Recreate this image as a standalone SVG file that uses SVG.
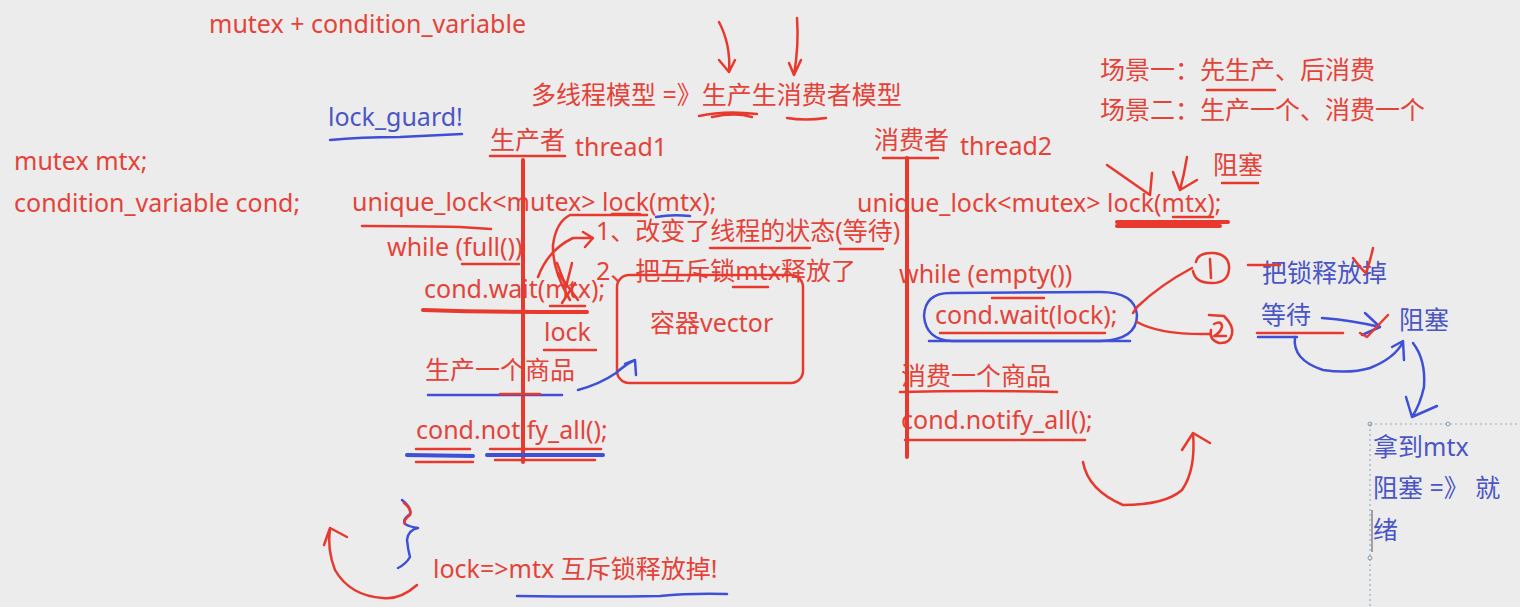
<svg xmlns="http://www.w3.org/2000/svg" width="1520" height="607" viewBox="0 0 1520 607">
<style>
text { font-family: "Noto Sans", "Noto Sans CJK SC", sans-serif; font-size: 25px; }
.r { fill: #e4433a; }
.b { fill: #4b56c4; }
.sr { fill: none; stroke: #e8392f; stroke-width: 2.5; stroke-linecap: round; stroke-linejoin: round; }
.sb { fill: none; stroke: #3f4fd6; stroke-width: 2.5; stroke-linecap: round; stroke-linejoin: round; }
.thick { stroke-width: 4; }
.dot { fill: none; stroke: #8fb0c8; stroke-width: 1.2; stroke-dasharray: 2 3; }
</style>
<rect width="1520" height="607" fill="#ececec"/>

<g id="header">
  <text class="r" x="209" y="33">mutex + condition_variable</text>
  <text class="r" x="531" y="104">多线程模型 =》生产生消费者模型</text>
  <text class="b" x="328" y="126">lock_guard!</text>
  <text class="r" x="1100" y="79">场景一：先生产、后消费</text>
  <text class="r" x="1100" y="119">场景二：生产一个、消费一个</text>
  <text class="r" x="14" y="170">mutex mtx;</text>
  <text class="r" x="14" y="212">condition_variable cond;</text>
</g>

<g id="producer">
  <text class="r" x="490" y="149">生产者</text>
  <text class="r" x="575" y="156">thread1</text>
  <text class="r" x="352" y="211">unique_lock&lt;mutex&gt; lock(mtx);</text>
  <text class="r" x="387" y="256">while (full())</text>
  <text class="r" x="424" y="298">cond.wait(mtx);</text>
  <text class="r" x="544" y="341">lock</text>
  <text class="r" x="425" y="379">生产一个商品</text>
  <text class="r" x="416" y="439">cond.notify_all();</text>
</g>

<g id="wait-notes">
  <text class="r" x="596" y="240">1、改变了线程的状态(等待)</text>
  <text class="r" x="596" y="280">2、把互斥锁mtx释放了</text>
</g>

<g id="container">
  <rect class="sr" x="617" y="275" width="186" height="108" rx="12"/>
  <text class="r" x="650" y="332">容器vector</text>
</g>

<g id="consumer">
  <text class="r" x="874" y="149">消费者</text>
  <text class="r" x="960" y="155">thread2</text>
  <text class="r" x="857" y="212">unique_lock&lt;mutex&gt; lock(mtx);</text>
  <text class="r" x="1213" y="174">阻塞</text>
  <text class="r" x="899" y="283">while (empty())</text>
  <text class="r" x="935" y="324">cond.wait(lock);</text>
  <text class="r" x="901" y="385">消费一个商品</text>
  <text class="r" x="901" y="429">cond.notify_all();</text>
</g>

<g id="wait-steps">
  <text class="b" x="1262" y="282">把锁释放掉</text>
  <text class="b" x="1261" y="324">等待</text>
  <text class="b" x="1399" y="329">阻塞</text>
</g>

<g id="note-box">
  <path class="dot" d="M1370,424 L1520,424 M1370,424 L1370,607"/>
  <circle cx="1370" cy="424" r="2" fill="none" stroke="#8a9aa8" stroke-width="1"/>
  <circle cx="1448" cy="424" r="2" fill="none" stroke="#8a9aa8" stroke-width="1"/>
  <circle cx="1370" cy="558" r="2" fill="none" stroke="#8a9aa8" stroke-width="1"/>
  <text class="b" x="1373" y="456">拿到mtx</text>
  <text class="b" x="1373" y="497">阻塞 =》 就</text>
  <text class="b" x="1373" y="539">绪</text>
  <path d="M1372,510 L1372,552" stroke="#555" stroke-width="1"/>
</g>

<g id="footer">
  <text class="r" x="433" y="578">lock=&gt;mtx 互斥锁释放掉!</text>
</g>

<g id="connectors">
  <!-- top arrows -->
  <path class="sr" d="M719,22 Q731,45 729,72 M719,60 L729,72 L735,60"/>
  <path class="sr" d="M797,18 Q799,45 794,75 M789,63 L794,75 L801,60"/>
  <path class="sr" d="M699,116 Q725,110 757,114 M712,117 Q735,112 752,117"/>
  <path class="sr" d="M787,118 Q805,121 826,118"/>
  <path class="sb" d="M330,140 Q360,137 400,137 Q440,135 462,134"/>
  <path class="sr" d="M1207,90 L1275,90"/>

  <!-- producer -->
  <path class="sr" d="M490,156 L565,156"/>
  <path class="sr thick" d="M523,160 L523,462"/>
  <path class="sr" d="M362,226 Q420,226 460,227 L491,229"/>
  <path class="sr" d="M612,214 L640,214"/>
  <path class="sb" d="M656,217 Q672,214 690,216"/>
  <path class="sr" d="M462,264 L519,264"/>
  <path class="sr" d="M647,215 L570,215 Q556,222 553,245 Q552,270 570,300"/>
  <path class="sr" d="M557,263 L566,287 L572,263"/>
  <path class="sr" d="M538,277 Q548,250 573,238 L593,238 M583,232 L593,238 L585,247"/>
  <path class="sr" d="M558,273 L578,300 M575,283 L562,303"/>
  <path class="sr" d="M550,306 L585,306"/>
  <path class="sr thick" d="M423,310 Q480,312 540,312 L587,312"/>
  <path class="sr" d="M710,248 L810,248 M840,249 L883,249"/>
  <path class="sr" d="M733,287 L768,287"/>
  <path class="sr" d="M544,350 L596,350"/>
  <path class="sb" d="M428,395 L562,395"/>
  <path class="sr" d="M500,394 L540,394"/>
  <path class="sb" d="M578,390 Q600,384 616,373 Q626,364 635,360 M625,364 L635,360 L636,375"/>
  <path class="sr" d="M416,449 L470,449 M490,449 L601,449"/>
  <path class="sb thick" d="M407,455 L473,456 M487,455 L603,455"/>
  <path class="sr" d="M416,462 L473,462 M495,460 L595,460"/>

  <!-- consumer -->
  <path class="sr" d="M883,158 L938,158"/>
  <path class="sr thick" d="M907,158 L907,457"/>
  <path class="sr" d="M1107,165 L1150,195 M1152,173 L1150,195"/>
  <path class="sr" d="M1187,157 Q1184,175 1180,190 M1173,172 L1180,190 L1197,180"/>
  <path class="sr" d="M1222,183 L1258,183"/>
  <path class="sr" d="M1173,217 L1213,217"/>
  <path class="sr thick" d="M1117,222 L1228,222 M1117,226 L1220,226"/>
  <path class="sr" d="M992,298 L1044,298"/>
  <path class="sb" d="M950,293 Q925,293 924,316 Q926,340 952,341 L1100,341 Q1137,340 1137,315 Q1135,292 1100,292 L950,293"/>
  <path class="sr" d="M940,333 L1105,333"/>
  <path class="sb" d="M929,341 L1130,341"/>
  <path class="sr" d="M900,392 Q980,390 1057,392"/>
  <path class="sr" d="M905,440 L1085,440"/>
  <path class="sr" d="M1083,462 Q1088,490 1123,505 Q1165,505 1182,490 Q1196,470 1193,433 M1182,450 L1193,433 L1210,443"/>

  <!-- wait steps -->
  <path class="sr" d="M1196,262 Q1198,252 1214,253 Q1230,255 1229,269 Q1228,283 1212,283 Q1195,283 1193,271"/>
  <path class="sr" d="M1210,259 L1211,278"/>
  <path class="sr" d="M1192,268 Q1160,285 1137,307 L1133,313"/>
  <path class="sr" d="M1209,315 L1224,316 Q1234,326 1232,334 Q1230,344 1219,343 Q1209,340 1211,330"/>
  <path class="sr" d="M1214,324 Q1222,320 1222,327 Q1220,333 1214,336 L1226,336"/>
  <path class="sr" d="M1137,322 Q1160,335 1210,334"/>
  <path class="sr" d="M1248,265 L1280,265"/>
  <path class="sr" d="M1353,258 Q1362,270 1366,273 Q1370,262 1373,248"/>
  <path class="sr" d="M1257,333 L1343,333"/>
  <path class="sb" d="M1258,337 L1297,337"/>
  <path class="sb" d="M1322,318 Q1350,320 1380,327 M1365,313 L1380,327 L1362,335"/>
  <path class="sr" d="M1360,333 L1367,337 L1388,315"/>
  <path class="sb" d="M1295,337 Q1292,360 1323,370 Q1350,374 1370,368 Q1395,358 1403,342 M1392,347 L1403,341 L1404,360"/>
  <path class="sb" d="M1413,343 Q1426,360 1424,387 Q1420,405 1412,417 M1406,397 L1412,417 L1437,406"/>

  <!-- bottom -->
  <path class="sr" d="M417,585 Q400,600 383,598 Q350,596 335,570 Q327,550 330,528 M324,545 L330,528 L347,537"/>
  <path class="sb" d="M402,500 Q412,508 410,514 Q402,520 405,524 Q410,527 418,528 Q408,530 407,540 Q408,550 410,557 Q406,564 398,568"/>
  <path class="sr" d="M404,503 Q412,509 410,515 Q403,520 405,524" stroke-width="1.5"/>
  <path class="sb" d="M517,596 Q600,597 660,596 Q690,593 727,594"/>
</g>
</svg>
